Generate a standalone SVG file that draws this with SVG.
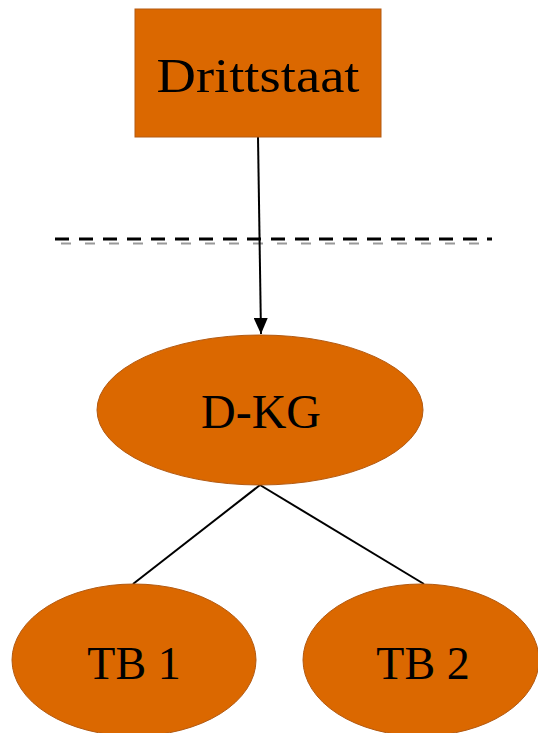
<svg xmlns="http://www.w3.org/2000/svg" width="538" height="733" viewBox="0 0 538 733">
<defs>
<style>
.node{fill:#DB6800;stroke:#B35A12;stroke-width:1}
.lbl{font-family:"Liberation Serif","DejaVu Serif",serif;fill:#000;text-anchor:middle}
.edge{stroke:#000;stroke-width:2;fill:none}
</style>
<marker id="arr" markerWidth="16" markerHeight="14" refX="16" refY="7" orient="auto" markerUnits="userSpaceOnUse" viewBox="0 0 16 14">
<path d="M0,0 L16,7 L0,14 z" fill="#000"/>
</marker>
</defs>
<rect width="538" height="733" fill="#fff"/>
<g id="border">
<line x1="55" y1="239" x2="492" y2="239" stroke="#000" stroke-width="3" stroke-dasharray="14 10"/>
<line x1="61" y1="243.5" x2="492" y2="243.5" stroke="#999" stroke-width="2" stroke-dasharray="10 14"/>
</g>
<g id="connectors">
<line class="edge" x1="258" y1="137" x2="261" y2="334" marker-end="url(#arr)" stroke-width="1.6"/>
<line class="edge" x1="260" y1="485" x2="133" y2="584"/>
<line class="edge" x1="260" y1="485" x2="424" y2="584"/>
</g>
<g id="drittstaat">
<rect class="node" x="135" y="9" width="246" height="128"/>
<text class="lbl" x="258" y="92" font-size="49" textLength="203" lengthAdjust="spacingAndGlyphs">Drittstaat</text>
</g>
<g id="dkg">
<ellipse class="node" cx="260" cy="410" rx="163" ry="75"/>
<text class="lbl" x="261" y="428" font-size="48">D-KG</text>
</g>
<g id="tb1">
<ellipse class="node" cx="134" cy="660" rx="122" ry="76"/>
<text class="lbl" x="134" y="679" font-size="46">TB 1</text>
</g>
<g id="tb2">
<ellipse class="node" cx="421" cy="660" rx="118" ry="76"/>
<text class="lbl" x="423" y="679" font-size="46">TB 2</text>
</g>
</svg>
